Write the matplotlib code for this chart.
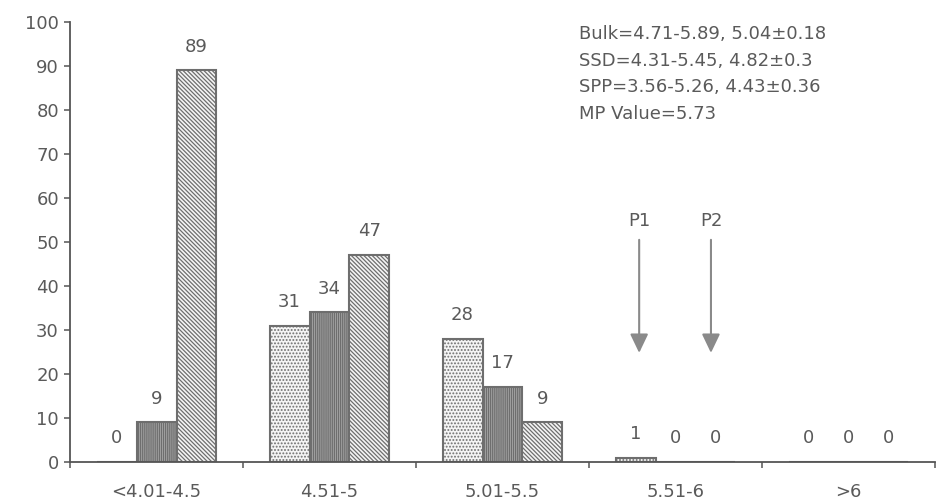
import matplotlib
matplotlib.use("Agg")
import matplotlib.pyplot as plt
import numpy as np

plt.rcParams['font.family'] = ['DejaVu Sans']
plt.rcParams['hatch.linewidth'] = 0.9

categories = ["<4.01-4.5", "4.51-5", "5.01-5.5", "5.51-6", ">6"]
bulk = [0, 31, 28, 1, 0]
ssd = [9, 34, 17, 0, 0]
spp = [89, 47, 9, 0, 0]
stats_lines = ["Bulk=4.71-5.89, 5.04\u00b10.18",
               "SSD=4.31-5.45, 4.82\u00b10.3",
               "SPP=3.56-5.26, 4.43\u00b10.36",
               "MP Value=5.73"]
markers = ["P1", "P2"]

fig = plt.figure(figsize=(9.45, 5.04), dpi=100)
ax = fig.add_axes([0.0741, 0.0833, 0.9153, 0.873])

x = np.arange(len(categories))
w = 0.231
edge = "#6e6e6e"
txt = "#5a5a5a"
fs = 13

series = [
    (bulk, -w, dict(facecolor="#f4f4f4", hatch=".....")),
    (ssd, 0.0, dict(facecolor="#a8a8a8", hatch="||||||||")),
    (spp, w, dict(facecolor="#f4f4f4", hatch="\\\\\\\\\\\\\\\\")),
]
for vals, off, style in series:
    bars = ax.bar(x + off, vals, width=w, edgecolor=edge, linewidth=1.5, **style)
    for b, v in zip(bars, vals):
        ax.annotate(str(v), (b.get_x() + b.get_width() / 2, v),
                    xytext=(0, 13.5), textcoords="offset points",
                    ha="center", va="baseline", fontsize=fs, color=txt)

# markers above the 5.51-6 group
for label, xp in zip(markers, [3 - 0.21, 3 + 0.205]):
    ax.annotate("", xy=(xp, 24.8), xytext=(xp, 50.5),
                arrowprops=dict(arrowstyle="-|>,head_length=1.15,head_width=0.55",
                                mutation_scale=10, color="#8a8a8a", lw=1.5,
                                shrinkA=0, shrinkB=0))
    ax.text(xp, 53.6, label, ha="center", va="baseline", fontsize=fs, color=txt)

for i, line in enumerate(stats_lines):
    ax.text(579 / 945, 1 - (39 + i * 26.7) / 504, line, transform=fig.transFigure,
            ha="left", va="baseline", fontsize=fs, color=txt)

ax.set_xlim(-0.5, len(categories) - 0.5)
ax.set_ylim(0, 100)
ax.set_yticks(np.arange(0, 101, 10))
ax.set_xticks(x)
ax.set_xticklabels(categories, fontsize=fs, color=txt)
ax.set_xticks(np.arange(-0.5, len(categories), 1.0), minor=True)
ax.tick_params(axis="x", which="major", length=0, pad=15)
ax.tick_params(axis="x", which="minor", length=4.5, color="#555555", width=1.1)
ax.tick_params(axis="y", length=4.5, color="#555555", width=1.1, labelsize=fs,
               labelcolor=txt, pad=3.5)
for s in ["top", "right"]:
    ax.spines[s].set_visible(False)
for s in ["left", "bottom"]:
    ax.spines[s].set_color("#555555")
    ax.spines[s].set_linewidth(1.3)

fig.savefig("out.png", dpi=100)
